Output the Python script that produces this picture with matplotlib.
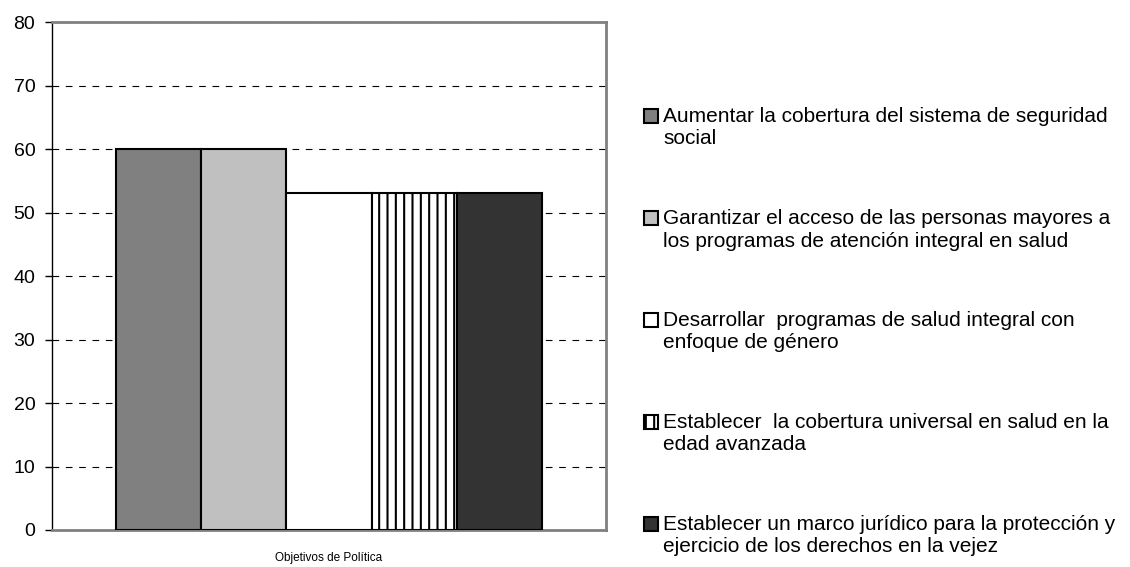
import matplotlib
matplotlib.use("Agg")
import matplotlib.pyplot as plt
from matplotlib.patches import Rectangle

plt.rcParams["font.family"] = ["Liberation Sans", "DejaVu Sans"]
plt.rcParams["hatch.linewidth"] = 1.5

# data
objetivos = [
    "Aumentar la cobertura del sistema de seguridad\nsocial",
    "Garantizar el acceso de las personas mayores a\nlos programas de atención integral en salud",
    "Desarrollar  programas de salud integral con\nenfoque de género",
    "Establecer  la cobertura universal en salud en la\nedad avanzada",
    "Establecer un marco jurídico para la protección y\nejercicio de los derechos en la vejez",
]
valores = [60, 60, 53, 53, 53]
y_ticks = [0, 10, 20, 30, 40, 50, 60, 70, 80]

colores = ["#808080", "#c0c0c0", "#ffffff", "#ffffff", "#333333"]
tramas = [None, None, None, "||", None]

W, H = 1130, 567
fig = plt.figure(figsize=(W / 100, H / 100), dpi=100)
ax = fig.add_axes([52 / W, 37 / H, 554 / W, 508 / H])

for i, (v, c, h) in enumerate(zip(valores, colores, tramas)):
    ax.bar(i, v, width=1.0, color=c, edgecolor="black", linewidth=1.5, hatch=h, zorder=3)

ax.set_xlim(-1.25, 5.25)
ax.set_ylim(0, 80)
ax.set_yticks(y_ticks)
ax.tick_params(axis="y", labelsize=14, length=5, width=1, pad=7, direction="out")
ax.set_xticks([])
ax.yaxis.grid(True, color="black", linestyle=(0, (6, 6)), linewidth=0.8)
ax.set_axisbelow(True)

ax.spines["left"].set_color("black")
ax.spines["left"].set_linewidth(1)
for s in ["top", "right", "bottom"]:
    ax.spines[s].set_color("#808080")
    ax.spines[s].set_linewidth(2)

ax.set_xlabel("Objetivos de Política", fontsize=8.5, labelpad=16)

# legend drawn by hand so the square sits on the first line of each label
sq = 14
for i, (lab, c, h) in enumerate(zip(objetivos, colores, tramas)):
    cy = 116 + i * 102
    fig.add_artist(Rectangle((644 / W, 1 - (cy + sq / 2) / H), sq / W, sq / H,
                             transform=fig.transFigure, facecolor=c,
                             edgecolor="black", linewidth=1.5, hatch=h))
    for j, line in enumerate(lab.split("\n")):
        fig.text(663 / W, 1 - (cy + 6.5 + j * 22) / H, line, fontsize=15,
                 ha="left", va="baseline")

fig.savefig("out.png", dpi=100)
